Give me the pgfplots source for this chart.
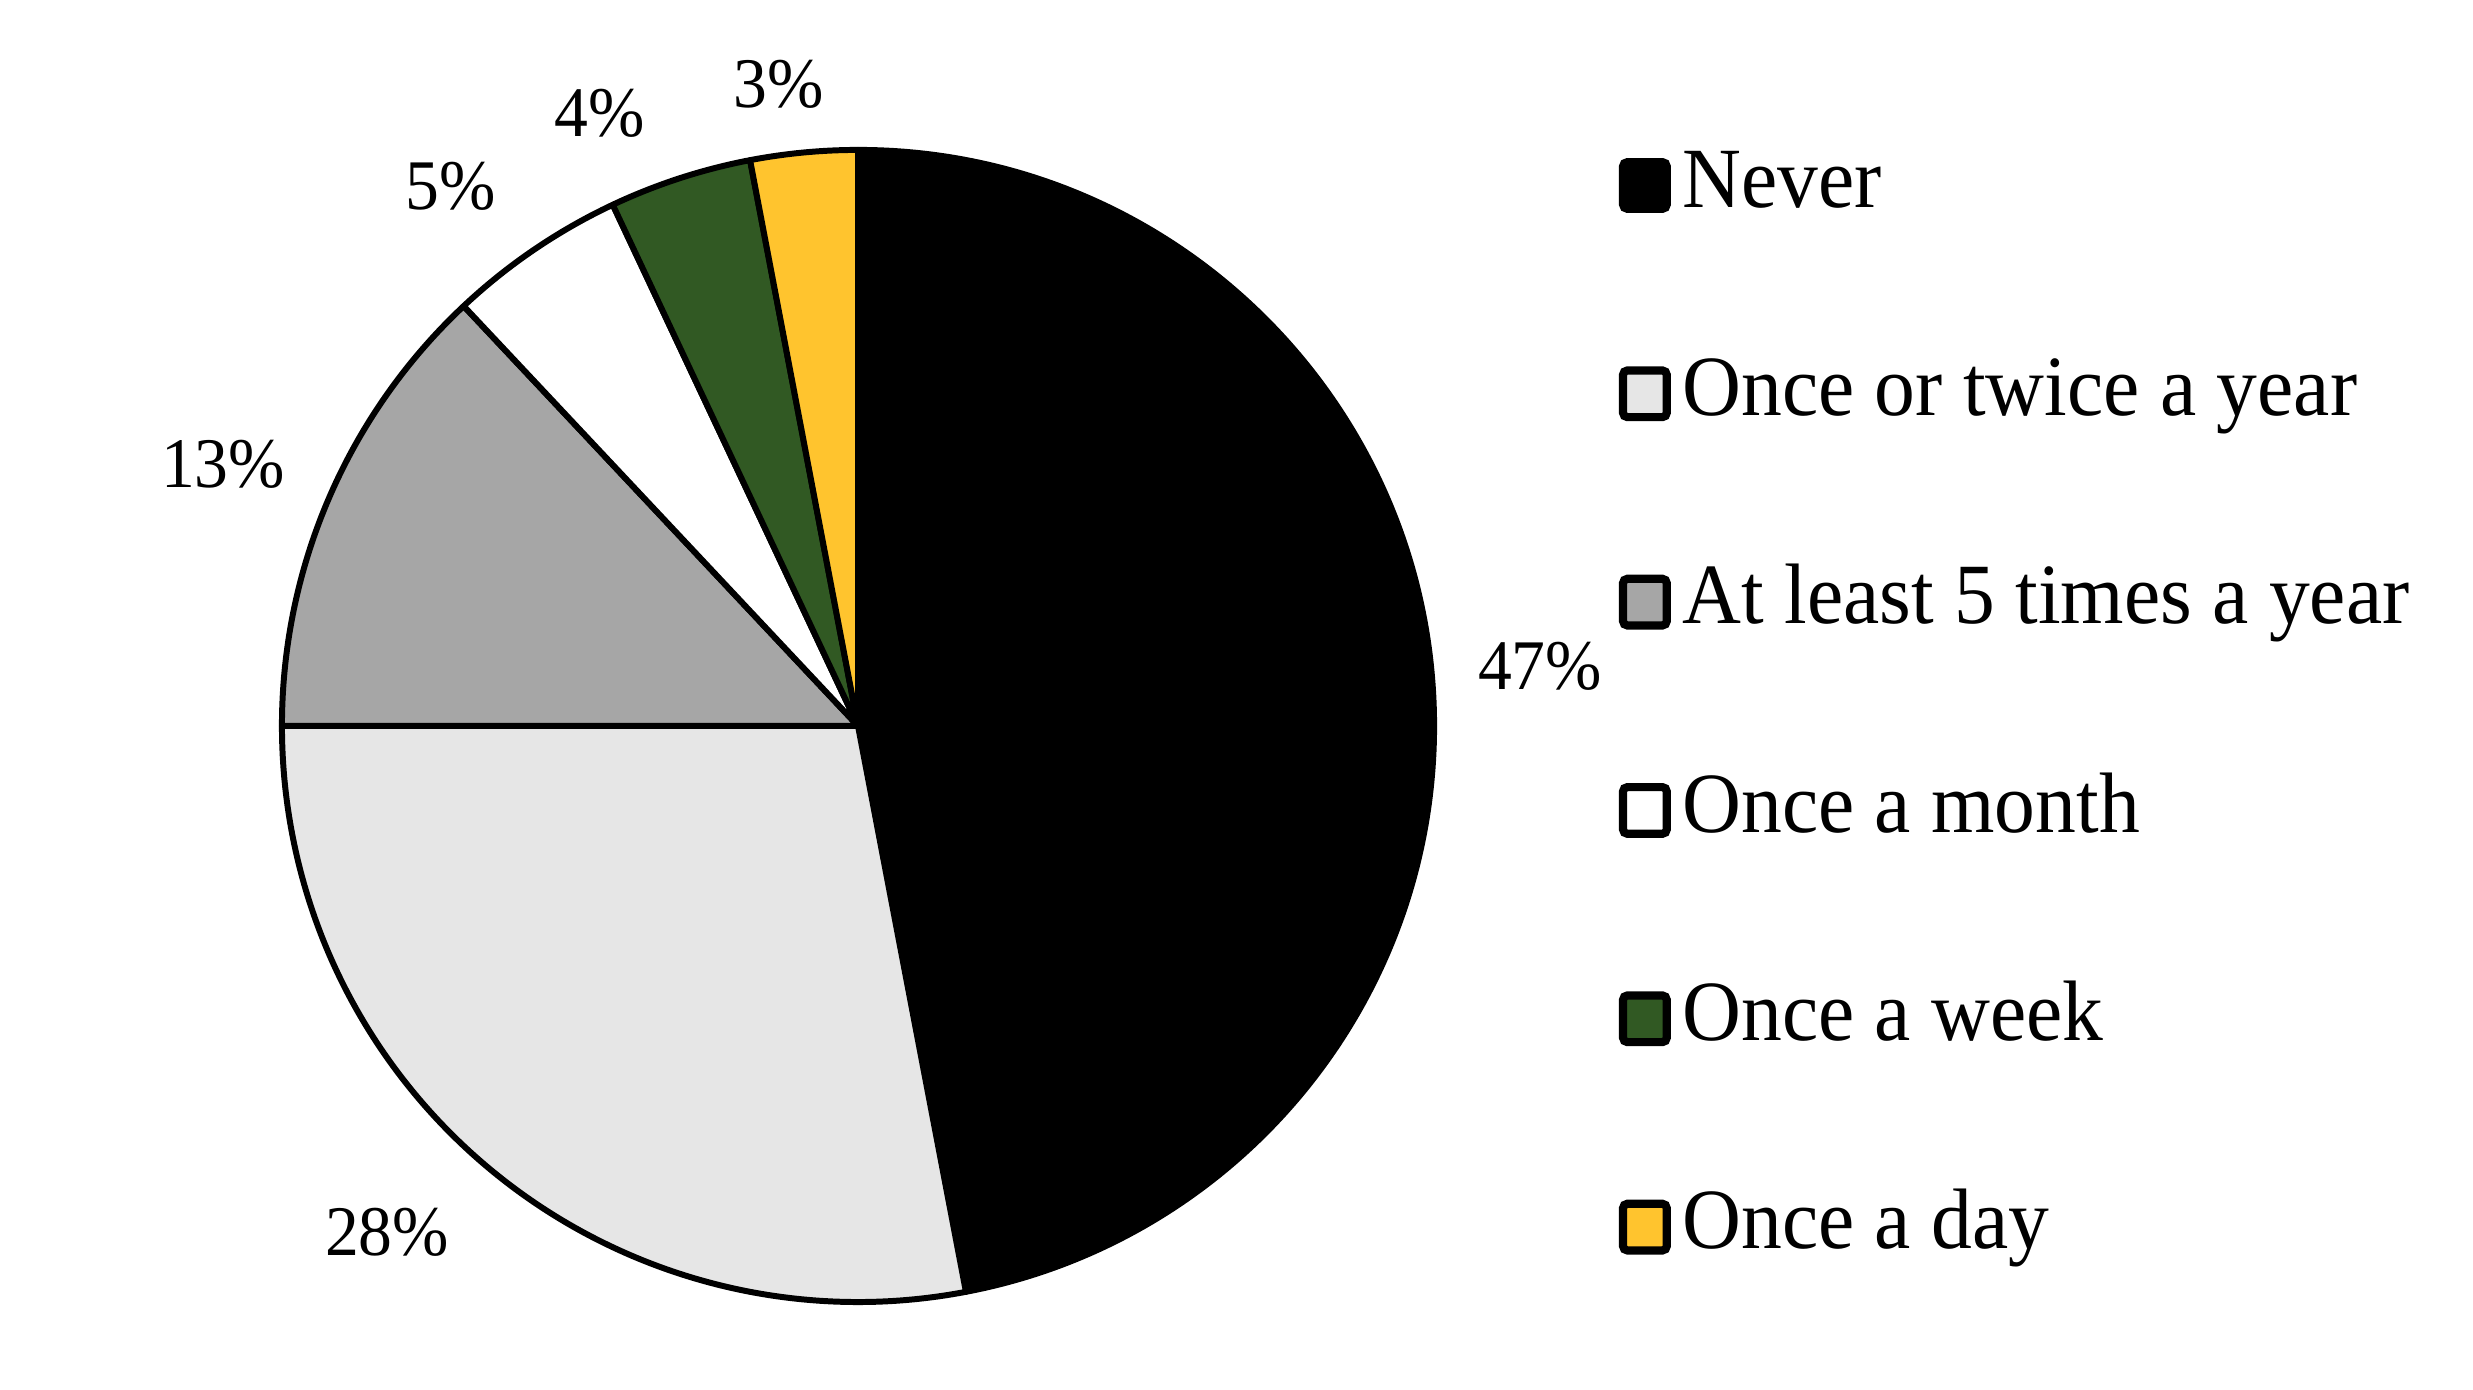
\documentclass[border=0pt]{standalone}
\usepackage{fontspec}
\setmainfont{Liberation Serif}[FakeStretch=0.95]
\usepackage{pgfplots}
\pgfplotsset{compat=1.18}

\definecolor{sliceLight}{RGB}{230,230,230}
\definecolor{sliceMid}{RGB}{166,166,166}
\definecolor{sliceGreen}{RGB}{49,89,35}
\definecolor{sliceYellow}{RGB}{255,196,46}

\newcommand{\legfont}{\fontsize{15.8}{19}\selectfont}
\newcommand{\pctfont}{\fontsize{13.1}{16}\selectfont}

% pie radius and centre (axis units are pixels of the 2473x1390 frame)
\newcommand{\R}{3.727cm}
% \slice{start angle}{percent}{colour}, slices run clockwise
\newcommand{\slice}[3]{%
  \filldraw[fill=#3, draw=black, line width=1.1pt, line join=round]
    (axis cs:858,664) -- ++(#1:\R) arc[start angle=#1, delta angle={-#2*3.6}, radius=\R] -- cycle;}

\begin{document}
\begin{tikzpicture}
\begin{axis}[
  scale only axis,
  width=16cm, height=8.9931cm,
  xmin=0, xmax=2473, ymin=0, ymax=1390,
  hide axis, clip=false,
  legend image code/.code={\draw[#1, line width=1.5pt, rounded corners=0.8pt] (0cm,-0.151cm) rectangle (0.283cm,0.151cm);},
  legend cell align=left,
  legend style={draw=none, fill=none, at={(0.6542,0.8986)}, anchor=north west,
    font=\legfont, row sep=22.35pt, column sep=2.15pt, inner sep=0pt,
    nodes={inner sep=0pt, text height=12pt, text depth=4pt}},
]
\path (rel axis cs:0,0) rectangle (rel axis cs:1,1);

\slice{90}{47}{black}
\slice{-79.2}{28}{sliceLight}
\slice{-180}{13}{sliceMid}
\slice{-226.8}{5}{white}
\slice{-244.8}{4}{sliceGreen}
\slice{-259.2}{3}{sliceYellow}

\addlegendimage{fill=black}
\addlegendentry{Never}
\addlegendimage{fill=sliceLight}
\addlegendentry{Once or twice a year}
\addlegendimage{fill=sliceMid}
\addlegendentry{At least 5 times a year}
\addlegendimage{fill=white}
\addlegendentry{Once a month}
\addlegendimage{fill=sliceGreen}
\addlegendentry{Once a week}
\addlegendimage{fill=sliceYellow}
\addlegendentry{Once a day}

% percentage labels
\node[font=\pctfont] at (axis cs:1540,724) {47\%};
\node[font=\pctfont] at (axis cs:387,158) {28\%};
\node[font=\pctfont] at (axis cs:223,926) {13\%};
\node[font=\pctfont] at (axis cs:451,1204) {5\%};
\node[font=\pctfont] at (axis cs:600,1277) {4\%};
\node[font=\pctfont] at (axis cs:779,1306) {3\%};
\end{axis}
\end{tikzpicture}
\end{document}
